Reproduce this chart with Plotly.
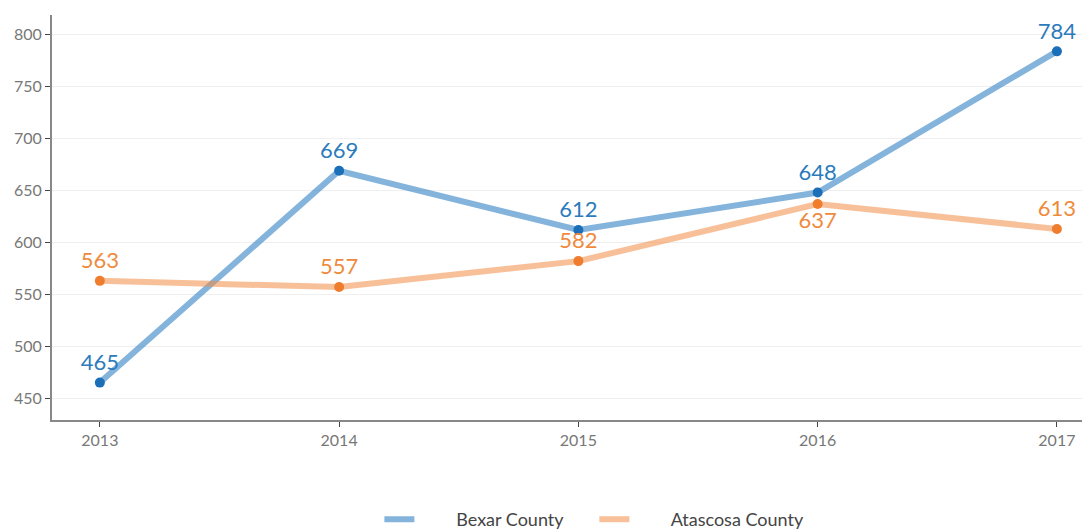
import plotly.graph_objects as go

years = [2013, 2014, 2015, 2016, 2017]
bexar = [465, 669, 612, 648, 784]
atascosa = [563, 557, 582, 637, 613]
atascosa_pos = ["top center", "top center", "top center", "bottom center", "top center"]

blue_line = "rgba(31,119,190,0.55)"
orange_line = "rgba(240,140,70,0.55)"
pad = "\u00a0" * 8

fig = go.Figure()
fig.add_trace(go.Scatter(
    x=years, y=bexar, name="Bexar County", mode="lines+markers+text", showlegend=False,
    line=dict(color=blue_line, width=6),
    marker=dict(color="#1a6fb8", size=10),
    text=[str(v) for v in bexar], textposition="top center",
    textfont=dict(color="#2b7bbd", size=22, family="Lato"),
    cliponaxis=False,
))
fig.add_trace(go.Scatter(
    x=years, y=atascosa, name="Atascosa County", mode="lines+markers+text", showlegend=False,
    line=dict(color=orange_line, width=6),
    marker=dict(color="#f07d2e", size=10),
    text=[str(v) for v in atascosa], textposition=atascosa_pos,
    textfont=dict(color="#ef8a3c", size=22, family="Lato"),
    cliponaxis=False,
))
# legend-only entries (line symbol only)
fig.add_trace(go.Scatter(x=[None], y=[None], mode="lines", name=pad + "Bexar County",
                         line=dict(color=blue_line, width=6)))
fig.add_trace(go.Scatter(x=[None], y=[None], mode="lines", name=pad + "Atascosa County",
                         line=dict(color=orange_line, width=6)))

fig.update_layout(
    width=1082, height=545,
    margin=dict(l=44, r=2, t=7, b=133),
    plot_bgcolor="white", paper_bgcolor="white",
    font=dict(family="Lato", color="#777777", size=16),
    showlegend=True,
    legend=dict(orientation="h", x=0.316, xanchor="left", y=-0.2, yanchor="top",
                font=dict(size=18, color="#444444"), itemwidth=30,
                entrywidth=170),
    xaxis=dict(range=[2012.8, 2017.13], tickvals=years, ticktext=[str(y) for y in years],
               showgrid=False, showline=True, linecolor="#888888", linewidth=2,
               ticks="outside", ticklen=5, tickcolor="#444444", zeroline=False,
               automargin=False),
    yaxis=dict(range=[429, 819], tickvals=[450, 500, 550, 600, 650, 700, 750, 800],
               showgrid=True, gridcolor="#efefef", gridwidth=1,
               showline=True, linecolor="#888888", linewidth=2,
               ticks="outside", ticklen=5, tickcolor="#444444", zeroline=False,
               automargin=False),
)

fig.write_html("out.html")
